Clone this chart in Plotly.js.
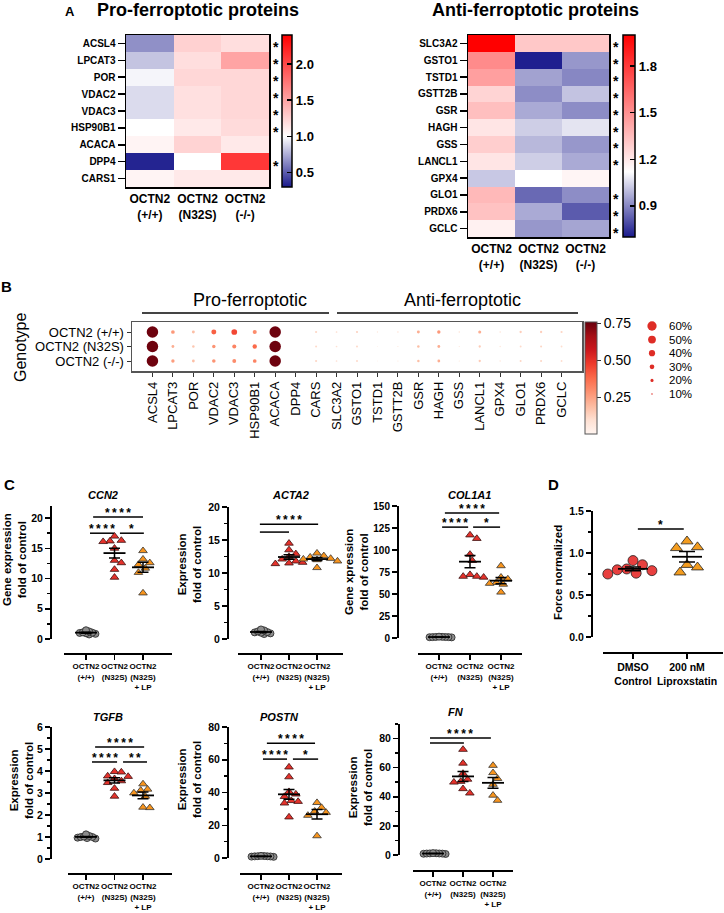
<!DOCTYPE html>
<html><head><meta charset="utf-8">
<script src="https://cdn.plot.ly/plotly-3.0.1.min.js"></script>
<style>html,body{margin:0;padding:0;background:#fff}#chart{width:724px;height:913px}</style>
</head><body><div id="chart"></div>
<script>
// ---------------- DATA ----------------
// Panel A heatmaps (fold change)
const genotypes = ["OCTN2<br>(+/+)", "OCTN2<br>(N32S)", "OCTN2<br>(-/-)"];
const proGenes = ["ACSL4","LPCAT3","POR","VDAC2","VDAC3","HSP90B1","ACACA","DPP4","CARS1"];
const proWT   = [0.66,0.82,0.97,0.89,0.89,1.00,1.06,0.33,1.06];
const proN32S = [1.25,1.18,1.22,1.17,1.17,1.12,1.24,1.00,1.12];
const proKO   = [1.18,1.50,1.22,1.22,1.22,1.20,1.12,2.10,1.12];
const proSig  = [1,1,1,1,1,1,0,1,0];
const antiGenes = ["SLC3A2","GSTO1","TSTD1","GSTT2B","GSR","HAGH","GSS","LANCL1","GPX4","GLO1","PRDX6","GCLC"];
const antiWT   = [2.00,1.52,1.45,1.27,1.34,1.21,1.29,1.21,1.02,1.36,1.33,1.17];
const antiN32S = [1.31,0.71,0.95,0.91,0.965,1.03,0.99,1.03,1.12,0.845,0.965,0.93];
const antiKO   = [1.31,0.93,0.90,1.01,0.91,1.07,0.93,0.965,1.155,0.91,0.82,0.955];
const antiSig  = [1,1,1,1,1,1,1,1,0,1,1,1];

// Panel B dot plot
const dotGenes = ["ACSL4","LPCAT3","POR","VDAC2","VDAC3","HSP90B1","ACACA","DPP4","CARS","SLC3A2","GSTO1","TSTD1","GSTT2B","GSR","HAGH","GSS","LANCL1","GPX4","GLO1","PRDX6","GCLC"];
const dotGenotypes = ["OCTN2 (+/+)","OCTN2 (N32S)","OCTN2 (-/-)"];
const pctWT   = [74,24,19,32,37,26,74,0,14,11,14,9,10,19,22,10,20,10,15,15,14];
const pctN32S = [74,18,16,22,26,28,74,0,13,11,13,6,8,16,18,8,15,9,12,13,12];
const pctKO   = [74,22,18,23,25,24,74,0,14,11,13,6,8,16,18,8,15,9,13,13,12];
const exprWT   = [0.75,0.27,0.18,0.40,0.45,0.30,0.75,0,0.12,0.10,0.13,0.06,0.08,0.22,0.27,0.08,0.22,0.08,0.14,0.14,0.12];
const exprN32S = [0.75,0.22,0.16,0.28,0.32,0.38,0.75,0,0.11,0.09,0.11,0.04,0.06,0.18,0.22,0.06,0.15,0.07,0.11,0.12,0.10];
const exprKO   = [0.75,0.26,0.18,0.28,0.30,0.32,0.75,0,0.12,0.09,0.11,0.04,0.06,0.18,0.22,0.06,0.15,0.07,0.12,0.12,0.10];
const legendPct = [60,50,40,30,20,10];

// Panel C (fold of control)
const groupsC = ["OCTN2<br>(+/+)","OCTN2<br>(N32S)","OCTN2<br>(N32S)<br>+ LP"];
const ccn2WT   = [0.75,0.85,0.95,1.0,1.05,1.1,1.25,1.45];
const ccn2N32S = [17.0,16.3,16.2,16.1,15.0,13.0,12.6,11.5,10.2];
const ccn2LP   = [14.6,13.2,12.6,12.3,11.7,11.0,7.6];
const acta2WT   = [0.75,0.85,0.95,1.0,1.05,1.15,1.3,1.45];
const acta2N32S = [14.5,13.5,12.9,12.5,12.1,11.8,11.6,11.5,11.4];
const acta2LP   = [13.0,12.6,12.4,12.2,12.1,12.0,11.8,10.8];
const col1a1WT   = [0.7,0.9,1.0,1.0,1.1,1.2,1.3,1.5];
const col1a1N32S = [117,113,95,88,72,70,70,69];
const col1a1LP   = [82,69,67,63,62,61,52];
const tgfbWT   = [0.93,0.95,0.97,1.0,1.0,1.02,1.05,1.12];
const tgfbN32S = [3.97,3.95,3.77,3.75,3.65,3.55,3.47,3.21,2.85];
const tgfbLP   = [3.41,3.17,3.12,3.0,2.85,2.35,2.33];
const postnWT   = [0.7,0.85,0.95,1.0,1.05,1.1,1.2,1.3];
const postnN32S = [55.5,49.5,40.5,39.0,37.5,35.0,34.5,33.5,25.0];
const postnLP   = [33.8,30.8,28.5,27.8,26.0,13.5];
const fnWT   = [0.7,0.85,0.95,1.0,1.05,1.1,1.2,1.3];
const fnN32S = [72.5,63,56,52,50.5,50,45.5,42.5];
const fnLP   = [61.5,56.5,52.5,48.5,41,37.5];
// Panel D (force normalized)
const groupsD = ["DMSO<br>Control","200 nM<br>Liproxstatin"];
const forceDMSO  = [0.91,0.86,0.81,0.80,0.79,0.76,0.75];
const forceLipro = [1.14,1.07,1.06,0.86,0.83,0.77];

// ---------------- HELPERS ----------------
const W=724, H=913;
const X=p=>p/W, Y=p=>1-p/H;
const FA='Liberation Sans, Arial, Helvetica, sans-serif';
const traces=[], annotations=[], shapes=[];
const layout={width:W,height:H,margin:{l:0,r:0,t:0,b:0},paper_bgcolor:'#fff',plot_bgcolor:'rgba(0,0,0,0)',
  showlegend:false,hovermode:false,font:{family:FA,color:'#000'}};
function txt(t,x,y,o={}){annotations.push(Object.assign({text:t,x:X(x),y:Y(y),xref:'paper',yref:'paper',showarrow:false,
  xanchor:'center',yanchor:'middle',font:{family:FA,size:12,color:'#000'}},o));}
const mean=a=>a.reduce((s,v)=>s+v,0)/a.length;
const sem=a=>{const m=mean(a);return Math.sqrt(a.reduce((s,v)=>s+(v-m)*(v-m),0)/(a.length-1))/Math.sqrt(a.length);};
function swarm(vals,pxY,pxX,d){
  const order=vals.map((v,i)=>i).sort((a,b)=>vals[b]-vals[a]);
  const placed=[], off=vals.map(()=>0);
  order.forEach(i=>{
    const y=vals[i]*pxY;
    for(let k=0;k<80;k++){
      const dx=(k===0?0:(k%2?1:-1)*Math.ceil(k/2))*d*0.35;
      if(placed.every(q=>Math.hypot(q.x-dx,q.y-y)>=d)){placed.push({x:dx,y});off[i]=dx/pxX;break;}
    }
  });
  return off;
}

// ---------------- PANEL A ----------------
function heat(n,genes,wt,mu,ko,sig,zmin,zmax,white,boxX,boxY,cbX,cbTh,cbTicks,starX){
  const key=n===1?'':n, xa='x'+key, ya='y'+key;
  traces.push({type:'heatmap',xaxis:xa,yaxis:ya,x:[0,1,2],y:genes.map((g,i)=>i),
    z:genes.map((g,i)=>[wt[i],mu[i],ko[i]]),zmin,zmax,
    colorscale:[[0,'#1a1a8c'],[(white-zmin)/(zmax-zmin),'#ffffff'],[1,'#ff0000']],
    colorbar:{x:X(cbX),xanchor:'left',y:Y(boxY[0]),yanchor:'top',len:boxY[1]-boxY[0],lenmode:'pixels',
      thickness:cbTh,outlinewidth:1.5,outlinecolor:'#000',ticks:'inside',ticklen:5,tickwidth:1.5,tickcolor:'#000',
      tickvals:cbTicks,ticktext:cbTicks.map(v=>v.toFixed(1)),tickfont:{family:FA,size:13,weight:'bold'},xpad:0,ypad:0}});
  layout['xaxis'+key]={domain:[X(boxX[0]),X(boxX[1])],anchor:ya,range:[-0.5,2.5],tickvals:[0,1,2],ticktext:genotypes,
    tickangle:0,ticks:'',showline:true,mirror:true,linewidth:1.5,linecolor:'#000',tickfont:{family:FA,size:12,weight:'bold'},
    showgrid:false,zeroline:false};
  layout['yaxis'+key]={domain:[Y(boxY[1]),Y(boxY[0])],anchor:xa,range:[genes.length-0.5,-0.5],
    tickvals:genes.map((g,i)=>i),ticktext:genes,ticks:'outside',ticklen:7,tickwidth:1.5,tickcolor:'#000',
    showline:true,mirror:true,linewidth:1.5,linecolor:'#000',tickfont:{family:FA,size:10,weight:'bold'},
    showgrid:false,zeroline:false};
  sig.forEach((s,i)=>{if(s)annotations.push({xref:'paper',yref:ya,x:X(starX),y:i,text:'<b>*</b>',showarrow:false,
    xanchor:'center',yanchor:'middle',font:{family:FA,size:14},yshift:-4});});
}
heat(1,proGenes,proWT,proN32S,proKO,proSig,0.3,2.4,1.0,[126,269],[35,187],282,10,[0.5,1.0,1.5,2.0],275.5);
heat(2,antiGenes,antiWT,antiN32S,antiKO,antiSig,0.7,2.0,1.12,[468,609],[35,237],623,12,[0.9,1.2,1.5,1.8],615.5);
txt('<b>A</b>',70,11,{font:{family:FA,size:13}});
txt('<b>Pro-ferroptotic proteins</b>',198,10,{font:{family:FA,size:18}});
txt('<b>Anti-ferroptotic proteins</b>',535,10,{font:{family:FA,size:18}});

// ---------------- PANEL B ----------------
const reds=[[0,'#fff5f0'],[0.125,'#fee0d2'],[0.25,'#fcbba1'],[0.375,'#fc9272'],[0.5,'#fb6a4a'],[0.625,'#ef3b2c'],[0.75,'#cb181d'],[0.875,'#a50f15'],[1,'#67000d']];
const SIZEREF=6.45;
{
  const xs=[],ys=[],ss=[],cs=[];
  [[pctWT,exprWT],[pctN32S,exprN32S],[pctKO,exprKO]].forEach(([p,e],r)=>{
    dotGenes.forEach((g,j)=>{xs.push(j);ys.push(r);ss.push(p[j]);cs.push(e[j]);});
  });
  traces.push({type:'scatter',mode:'markers',xaxis:'x3',yaxis:'y3',x:xs,y:ys,cliponaxis:false,
    marker:{size:ss,sizemode:'diameter',sizeref:SIZEREF,opacity:1,color:cs,colorscale:reds,cmin:0,cmax:0.76,showscale:true,line:{width:0},
      colorbar:{x:X(585),xanchor:'left',y:Y(322),yanchor:'top',len:112,lenmode:'pixels',thickness:12,
        outlinewidth:1,outlinecolor:'#555',ticks:'outside',ticklen:4,tickcolor:'#333',tickvals:[0.25,0.5,0.75],
        ticktext:['0.25','0.50','0.75'],tickfont:{family:FA,size:14},xpad:0,ypad:0}}});
  layout.xaxis3={domain:[X(132),X(582)],anchor:'y3',range:[-1,21],tickvals:dotGenes.map((g,i)=>i),ticktext:dotGenes,
    tickangle:-90,ticks:'outside',ticklen:4,tickcolor:'#333',showline:true,mirror:true,linecolor:'#555',linewidth:1.5,
    tickfont:{family:FA,size:13},showgrid:false,zeroline:false};
  layout.yaxis3={domain:[Y(371),Y(322)],anchor:'x3',range:[2.69,-0.69],tickvals:[0,1,2],ticktext:dotGenotypes,
    ticks:'outside',ticklen:4,tickcolor:'#333',showline:true,mirror:true,linecolor:'#555',linewidth:1.5,
    tickfont:{family:FA,size:13},showgrid:false,zeroline:false};
  traces.push({type:'scatter',mode:'markers',xaxis:'x4',yaxis:'y4',x:legendPct.map(()=>0),y:legendPct.map((v,i)=>i),
    cliponaxis:false,marker:{size:legendPct,sizemode:'diameter',sizeref:SIZEREF,opacity:1,color:'#de2d26',line:{width:0}}});
  layout.xaxis4={domain:[X(640),X(720)],anchor:'y4',range:[-12,68],visible:false};
  layout.yaxis4={domain:[Y(400),Y(320)],anchor:'x4',range:[5.44,-0.44],visible:false};
  legendPct.forEach((v,i)=>annotations.push({xref:'x4',yref:'y4',x:15,y:i,text:v+'%',showarrow:false,xanchor:'left',
    yanchor:'middle',font:{family:FA,size:11.5}}));
  txt('<b>B</b>',6,287,{font:{family:FA,size:15}});
  txt('Genotype',20,348,{textangle:-90,font:{family:FA,size:16}});
  txt('Pro-ferroptotic',250,300,{font:{family:FA,size:18}});
  txt('Anti-ferroptotic',462,300,{font:{family:FA,size:18}});
  shapes.push({type:'line',xref:'paper',yref:'paper',x0:X(142),x1:X(329),y0:Y(313),y1:Y(313),line:{color:'#444',width:2}});
  shapes.push({type:'line',xref:'paper',yref:'paper',x0:X(337),x1:X(578),y0:Y(313),y1:Y(313),line:{color:'#444',width:2}});
}

// ---------------- PANELS C & D ----------------
const stWT={symbol:'circle',size:7,color:'#8c8c8c',lc:'#222',coll:3};
const stN={symbol:'triangle-up',size:7.5,color:'#e4322b',lc:'#3a1010',coll:6.5};
const stLP={symbol:'triangle-up',size:7.5,color:'#f7941d',lc:'#333',coll:6.5};
function prism(p){
  const n=p.ax, xa='x'+n, ya='y'+n;
  layout['xaxis'+n]={domain:[X(p.xDom[0]),X(p.xDom[1])],range:[(p.xDom[0]-p.c0)/p.s,(p.xDom[1]-p.c0)/p.s],
    anchor:'free',position:Y(p.xLineY),showline:true,linecolor:'#000',linewidth:1.5,ticks:'outside',ticklen:5,
    tickwidth:1.5,tickcolor:'#000',tickvals:p.groups.map((g,i)=>i),ticktext:p.groups,tickangle:0,
    tickfont:{family:FA,size:p.xfs||8,weight:'bold'},showgrid:false,zeroline:false};
  const ya_={domain:[Y(p.yBot),Y(p.yTop)],range:p.yr,anchor:'free',position:X(p.yx),showline:true,linecolor:'#000',
    linewidth:1.5,ticks:'outside',ticklen:5,tickwidth:1.5,tickcolor:'#000',tick0:0,dtick:p.dtick,
    tickfont:{family:FA,size:p.yfs||10.5,weight:'bold'},showgrid:false,zeroline:false};
  if(p.tickformat) ya_.tickformat=p.tickformat;
  if(p.minor) ya_.minor={ticks:'outside',ticklen:3,tickwidth:1.5,tickcolor:'#000',tick0:0,dtick:p.minor,showgrid:false};
  layout['yaxis'+n]=ya_;
  const pxY=(p.yBot-p.yTop)/(p.yr[1]-p.yr[0]);
  p.data.forEach((vals,g)=>{
    const st=p.styles[g];
    const off=swarm(vals,pxY,p.s,st.coll);
    traces.push({type:'scatter',mode:'markers',xaxis:xa,yaxis:ya,x:vals.map((v,i)=>g+off[i]),y:vals,cliponaxis:false,
      marker:{symbol:st.symbol,size:st.size,color:st.color,line:{color:st.lc,width:0.8}}});
    traces.push({type:'scatter',mode:'markers',xaxis:xa,yaxis:ya,x:[g],y:[mean(vals)],cliponaxis:false,
      marker:{symbol:'line-ew',size:(p.meanW||22)/1.4,color:'#000',line:{color:'#000',width:1.8}},
      error_y:{type:'data',array:[sem(vals)],visible:true,color:'#000',thickness:1.5,width:p.capW||5.5}});
  });
  (p.brk||[]).forEach(([x1,x2,yv,lab])=>{
    shapes.push({type:'line',xref:xa,yref:ya,x0:x1,x1:x2,y0:yv,y1:yv,line:{color:'#000',width:1.5}});
    if(lab)annotations.push({xref:xa,yref:ya,x:(x1+x2)/2,y:yv,text:'<b>'+lab+'</b>',showarrow:false,xanchor:'center',
      yanchor:'bottom',yshift:-5,font:{family:FA,size:12}});
  });
  if(p.name) txt('<b><i>'+p.name+'</i></b>',p.title[0],p.title[1],{font:{family:FA,size:11}});
  txt('<b>'+p.ytitle+'</b>',p.yt[0],p.yt[1],{textangle:-90,font:{family:FA,size:11.5}});
}
const S4='*\u2009*\u2009*\u2009*', S2='*\u2009*';
prism({ax:5,name:'CCN2',yx:50,yTop:506,yBot:639,yr:[0,22],dtick:5,minor:2.5,xDom:[64,172],c0:86,s:28.5,xLineY:653,
  groups:groupsC,data:[ccn2WT,ccn2N32S,ccn2LP],styles:[stWT,stN,stLP],title:[103,495],
  ytitle:'Gene expression<br>fold of control',yt:[14,560],
  brk:[[0.25,2.0,20.2,S4],[0.14,0.98,17.5,S4],[1.19,2.03,17.5,'*']]});
prism({ax:6,name:'ACTA2',yx:227,yTop:507,yBot:639,yr:[0,20],dtick:5,minor:2.5,xDom:[238,343],c0:261,s:28,xLineY:653,
  groups:groupsC,data:[acta2WT,acta2N32S,acta2LP],styles:[stWT,stN,stLP],title:[290,495],
  ytitle:'Expression<br>fold of control',yt:[189,565],
  brk:[[-0.04,2.04,17.4,S4],[-0.04,1.0,16.2,'']]});
prism({ax:7,name:'COL1A1',yx:397,yTop:506,yBot:638,yr:[0,150],dtick:25,yfs:10,xDom:[418,522],c0:439,s:31,xLineY:653,
  groups:groupsC,data:[col1a1WT,col1a1N32S,col1a1LP],styles:[stWT,stN,stLP],title:[470,495],
  ytitle:'Gene xpression<br>fold of control',yt:[356,572],
  brk:[[0.19,1.94,142,S4],[0.1,0.94,126,S4],[1.1,1.97,126,'*']]});
prism({ax:8,name:'',yx:591,yTop:511,yBot:637,yr:[0,1.5],dtick:0.5,minor:0.25,tickformat:'.1f',xDom:[603,723],c0:633,s:54,xLineY:652,
  groups:groupsD,xfs:10.5,data:[forceDMSO,forceLipro],meanW:30,capW:8,
  styles:[{symbol:'circle',size:10,color:'#e8403f',lc:'#222',coll:9},{symbol:'triangle-up',size:10.5,color:'#f39c1f',lc:'#222',coll:10}],
  title:[662,495],ytitle:'Force normalized',yt:[558,573],
  brk:[[0.09,0.94,1.286,'*']]});
prism({ax:9,name:'TGFB',yx:50,yTop:727,yBot:859,yr:[0,6],dtick:1,minor:0.5,xDom:[68,172],c0:86,s:28.5,xLineY:873,
  groups:groupsC,data:[tgfbWT,tgfbN32S,tgfbLP],styles:[stWT,stN,stLP],title:[108,717],
  ytitle:'Expression<br>fold of control',yt:[21,781],
  brk:[[0.32,2.04,5.09,S4],[0.21,1.09,4.41,S4],[1.3,2.14,4.41,S2]]});
prism({ax:10,name:'POSTN',yx:227,yTop:727,yBot:858,yr:[0,80],dtick:20,minor:10,xDom:[240,342],c0:261,s:28,xLineY:873,
  groups:groupsC,data:[postnWT,postnN32S,postnLP],styles:[stWT,stN,stLP],title:[279,717],
  ytitle:'Expression<br>fold of control',yt:[189,780],
  brk:[[0.21,1.93,70.1,S4],[0.07,0.93,60.4,S4],[1.14,2.04,60.4,'*']]});
prism({ax:11,name:'FN',yx:398,yTop:724,yBot:855,yr:[0,90],dtick:20,minor:10,xDom:[413,513],c0:433,s:30,xLineY:870,
  groups:groupsC,data:[fnWT,fnN32S,fnLP],styles:[stWT,stN,stLP],title:[456,712],
  ytitle:'Expression<br>fold of control',yt:[360,788],
  brk:[[-0.1,1.93,80.4,S4],[-0.1,1.03,76.9,'']]});
txt('<b>C</b>',9,484,{font:{family:FA,size:15}});
txt('<b>D</b>',553,484,{font:{family:FA,size:15}});

layout.annotations=annotations; layout.shapes=shapes;
Plotly.newPlot('chart',traces,layout,{staticPlot:true});
</script></body></html>
